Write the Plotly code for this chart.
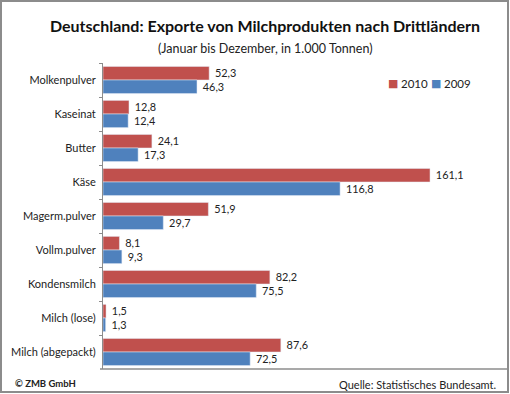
import plotly.graph_objects as go

categories = ["Molkenpulver", "Kaseinat", "Butter", "Käse", "Magerm.pulver",
              "Vollm.pulver", "Kondensmilch", "Milch (lose)", "Milch (abgepackt)"]
values_2010 = [52.3, 12.8, 24.1, 161.1, 51.9, 8.1, 82.2, 1.5, 87.6]
values_2009 = [46.3, 12.4, 17.3, 116.8, 29.7, 9.3, 75.5, 1.3, 72.5]
series_names = ["2010", "2009"]
series_colors = ["#C0504D", "#4F81BD"]

FONT = "Lato, 'Open Sans', sans-serif"
W, H = 510, 394
L, R, T, B = 103, 1, 63, 25
PW, PH = W - L - R, H - T - B


def px(x):
    return (x - L) / PW


def py(y):
    return (H - B - y) / PH


def fmt(v):
    return "\u00a0" + f"{v:.1f}".replace(".", ",")


fig = go.Figure()
for name, vals, col in zip(series_names, [values_2010, values_2009], series_colors):
    fig.add_trace(go.Bar(
        y=categories, x=vals, name=name, orientation="h",
        marker=dict(color=col),
        text=[fmt(v) for v in vals], textposition="outside",
        textfont=dict(family=FONT, size=12, color="#222222"), cliponaxis=False,
    ))

legend_ann = []
for i, (name, col) in enumerate(zip(series_names, series_colors)):
    x0 = 386 + i * 43
    legend_ann.append(dict(text=f"<span style='color:{col}'>■</span>", xref="paper", yref="paper",
                           x=px(x0), y=py(83), xanchor="left", yanchor="middle", showarrow=False,
                           font=dict(family="DejaVu Sans", size=11)))
    legend_ann.append(dict(text=name, xref="paper", yref="paper",
                           x=px(x0 + 13), y=py(83), xanchor="left", yanchor="middle", showarrow=False,
                           font=dict(size=11.5, color="#222222")))

fig.update_layout(
    width=W, height=H,
    margin=dict(l=L, r=R, t=T, b=B),
    paper_bgcolor="white", plot_bgcolor="white",
    barmode="group", bargap=0.2, bargroupgap=0,
    font=dict(family=FONT, size=11, color="#222222"),
    showlegend=False,
    xaxis=dict(range=[0, 200], visible=False, fixedrange=True),
    yaxis=dict(autorange="reversed", type="category", tickson="boundaries",
               ticks="outside", ticklen=3, tickcolor="#8c8c8c",
               showline=True, linecolor="#8c8c8c", linewidth=1,
               showgrid=False, tickfont=dict(size=11, color="#222222"),
               ticklabelstandoff=4, fixedrange=True),
    title=dict(text="<b>Deutschland: Exporte von Milchprodukten nach Drittländern</b>",
               x=265 / W, xanchor="center", y=1 - 26 / H, yanchor="middle",
               font=dict(family=FONT, size=16, color="#111111")),
    annotations=[
        dict(text="(Januar bis Dezember, in 1.000 Tonnen)", xref="paper", yref="paper",
             x=px(265), y=py(49), xanchor="center", yanchor="middle", showarrow=False,
             font=dict(size=12.5, color="#222222")),
        dict(text="<b>© ZMB GmbH</b>", xref="paper", yref="paper",
             x=px(13), y=py(383), xanchor="left", yanchor="middle", showarrow=False,
             font=dict(size=9.5, color="#222222")),
        dict(text="Quelle: Statistisches Bundesamt.", xref="paper", yref="paper",
             x=px(498), y=py(384), xanchor="right", yanchor="middle", showarrow=False,
             font=dict(size=11, color="#222222")),
    ] + legend_ann,
    shapes=[
        dict(type="rect", xref="paper", yref="paper",
             x0=px(1), x1=px(508), y0=py(392), y1=py(1),
             line=dict(color="#8c8c8c", width=2), layer="above"),
        dict(type="line", xref="paper", yref="paper",
             x0=px(100), x1=px(508), y0=0, y1=0,
             line=dict(color="#8c8c8c", width=1.5), layer="above"),
    ],
)

fig.write_html("out.html", config={"displayModeBar": False},
               post_script="document.body.style.margin='0px';document.body.style.overflow='hidden';")
